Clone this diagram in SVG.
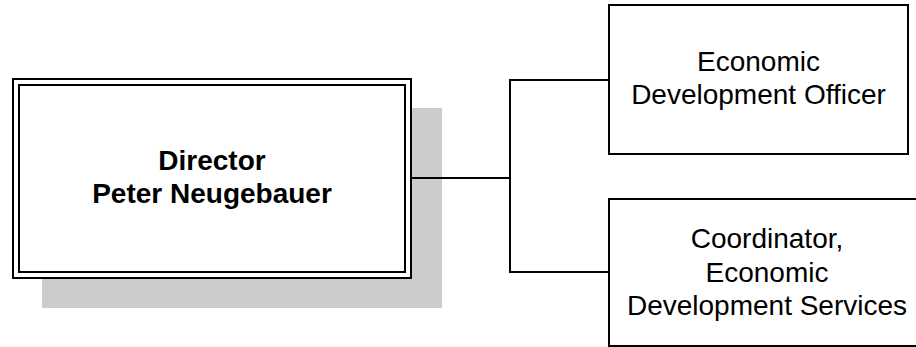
<svg xmlns="http://www.w3.org/2000/svg" width="916" height="347" viewBox="0 0 916 347">
<style>
.box{fill:#fff;stroke:#000;stroke-width:2}
.line{fill:none;stroke:#000;stroke-width:2}
.t{font-family:"Liberation Sans",Arial,sans-serif;font-size:28px;fill:#000;text-anchor:middle}
.b{font-weight:bold}
</style>
<rect width="916" height="347" fill="#fff"/>
<g id="director">
<rect x="42" y="108" width="400" height="200" fill="#cccccc"/>
<rect class="box" x="13" y="79" width="398" height="199"/>
<rect class="box" x="19" y="85" width="386" height="187"/>
<text class="t b" x="212" y="170">Director</text>
<text class="t b" x="212" y="203">Peter Neugebauer</text>
</g>
<g id="officer">
<rect class="box" x="609" y="5" width="299" height="149"/>
<text class="t" x="758.5" y="71">Economic</text>
<text class="t" x="758.5" y="104">Development Officer</text>
</g>
<g id="coordinator">
<rect class="box" x="609" y="199" width="320" height="147"/>
<text class="t" x="767" y="248">Coordinator,</text>
<text class="t" x="767" y="282">Economic</text>
<text class="t" x="767" y="315">Development Services</text>
</g>
<g id="connectors">
<polyline class="line" points="411,178 510,178"/>
<polyline class="line" points="609,80 510,80 510,272 609,272"/>
</g>
</svg>
